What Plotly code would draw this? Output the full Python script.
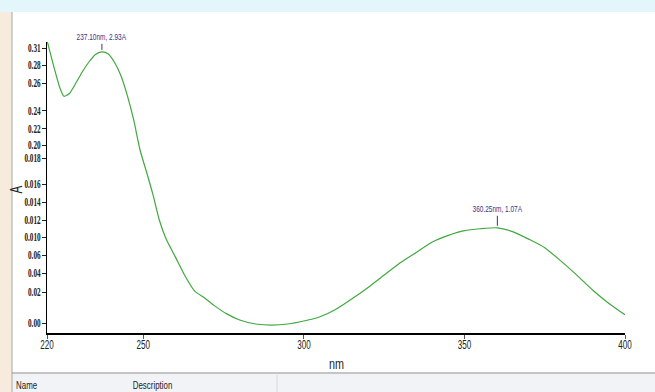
import plotly.graph_objects as go

# ---- data ----
wavelength = [220, 222, 224, 225.3, 227, 229, 231, 233, 235, 237.1, 239, 241, 243, 245, 247, 249,
              251, 253, 255, 257, 260, 263, 266, 269, 272, 276, 280, 285, 290, 295, 300, 305,
              310, 315, 320, 325, 330, 335, 340, 345, 350, 355, 360.25, 365, 370, 375, 380,
              385, 390, 395, 400]
absorbance = [3.05, 2.79, 2.55, 2.46, 2.49, 2.60, 2.72, 2.82, 2.90, 2.93, 2.91, 2.82, 2.68, 2.47,
              2.21, 1.89, 1.66, 1.42, 1.15, 0.96, 0.76, 0.56, 0.40, 0.33, 0.25, 0.16, 0.095,
              0.053, 0.042, 0.053, 0.085, 0.13, 0.21, 0.32, 0.44, 0.57, 0.70, 0.81, 0.92, 0.99,
              1.04, 1.06, 1.07, 1.03, 0.95, 0.86, 0.72, 0.57, 0.41, 0.27, 0.15]

x_tickvals = [220, 250, 300, 350, 400]
x_ticktext = ["220", "250", "300", "350", "400"]

y_tickvals = [2.97, 2.79, 2.60, 2.31, 2.12, 1.945, 1.807, 1.533, 1.342, 1.152, 0.972,
              0.782, 0.592, 0.391, 0.063]
y_ticktext = ["0.31", "0.28", "0.26", "0.24", "0.22", "0.20", "0.018", "0.016", "0.014",
              "0.012", "0.010", "0.06", "0.04", "0.02", "0.00"]

peaks_x = [237.10, 360.25]
peaks_y = [2.93, 1.07]
peak_labels = ["237.10nm, 2.93A", "360.25nm, 1.07A"]
peak_label_offsets = [-8, -12]

W, H = 655, 392
L, R, T, B = 47, 625, 42, 333
SANS = "Liberation Sans, Arial, sans-serif"
SERIF = "Liberation Serif, Times New Roman, serif"


def px(x):
    return (x - L) / (R - L)


def py(y):
    return (B - y) / (B - T)


fig = go.Figure()
fig.add_trace(go.Scatter(x=wavelength, y=absorbance, mode="lines",
                         line=dict(color="#3fa83f", width=1.2, shape="spline", smoothing=0.6),
                         hoverinfo="skip", showlegend=False))

shapes = []
shapes.append(dict(type="rect", xref="paper", yref="paper", x0=px(0), x1=px(W), y0=py(12), y1=py(0),
                   fillcolor="#e2f6fb", line=dict(width=0), layer="below"))
shapes.append(dict(type="rect", xref="paper", yref="paper", x0=px(0), x1=px(12), y0=py(392), y1=py(12),
                   fillcolor="#f6ebdc", line=dict(width=0), layer="below"))
shapes.append(dict(type="rect", xref="paper", yref="paper", x0=px(12), x1=px(W), y0=py(392), y1=py(374),
                   fillcolor="#f1f3f6", line=dict(width=0), layer="below"))
shapes.append(dict(type="line", xref="paper", yref="paper", x0=px(12), x1=px(12), y0=py(392), y1=py(12),
                   line=dict(color="#a8a8a8", width=1)))
shapes.append(dict(type="line", xref="paper", yref="paper", x0=px(12), x1=px(W), y0=py(373), y1=py(373),
                   line=dict(color="#8a8a8a", width=1)))
shapes.append(dict(type="line", xref="paper", yref="paper", x0=px(277), x1=px(277), y0=py(392), y1=py(375),
                   line=dict(color="#d8d8d8", width=1)))

annotations = []
for xv, yv, lab, off in zip(peaks_x, peaks_y, peak_labels, peak_label_offsets):
    annotations.append(dict(x=xv, y=yv, xref="x", yref="y", text=lab, showarrow=True,
                            arrowhead=0, arrowwidth=1, arrowcolor="#333388", ax=0, ay=off,
                            standoff=2, font=dict(family=SANS, size=9, color="#333388"),
                            yanchor="bottom"))
annotations.append(dict(x=px(336), y=py(363), xref="paper", yref="paper", text="nm", showarrow=False,
                        font=dict(family=SANS, size=15, color="#222"),
                        xanchor="center", yanchor="middle"))
annotations.append(dict(x=px(16), y=py(190), xref="paper", yref="paper", text="A", showarrow=False,
                        textangle=-90, font=dict(family=SANS, size=16, color="#222"),
                        xanchor="center", yanchor="middle"))
annotations.append(dict(x=px(26), y=py(385), xref="paper", yref="paper", text="Name", showarrow=False,
                        font=dict(family=SANS, size=11, color="#222"),
                        xanchor="center", yanchor="middle"))
annotations.append(dict(x=px(152), y=py(385), xref="paper", yref="paper", text="Description",
                        showarrow=False, font=dict(family=SANS, size=11, color="#222"),
                        xanchor="center", yanchor="middle"))

fig.update_layout(
    width=W, height=H,
    margin=dict(l=L, r=W - R, t=T, b=H - B),
    paper_bgcolor="white", plot_bgcolor="white",
    shapes=shapes, annotations=annotations,
    xaxis=dict(range=[220, 400], tickvals=x_tickvals, ticktext=x_ticktext, showgrid=False,
               zeroline=False, showline=True, linecolor="black", linewidth=1.5, ticks="outside",
               ticklen=4, tickcolor="#555", ticklabelstandoff=-5,
               tickfont=dict(family=SANS, size=13, color="#222")),
    yaxis=dict(range=[-0.042, 3.034], tickvals=y_tickvals, ticktext=y_ticktext, showgrid=False,
               zeroline=False, showline=True, linecolor="black", linewidth=1, ticks="outside",
               ticklen=4, tickcolor="#222", ticklabelstandoff=-1,
               tickfont=dict(family=SERIF, size=12, color="#222", weight="bold")),
)

post = """
document.body.style.margin='0';document.body.style.overflow='hidden';
var gd=document.getElementById('{plot_id}');
function squeeze(sel,f){gd.querySelectorAll(sel).forEach(function(t){
  var l=t.getComputedTextLength(); if(l>0){t.setAttribute('textLength',(l*f).toFixed(1));
  t.setAttribute('lengthAdjust','spacingAndGlyphs');}});}
squeeze('.ytick text',0.6); squeeze('.xtick text',0.62); squeeze('.annotation-text',0.72);
"""

fig.write_html("out.html", post_script=post, config={"displayModeBar": False})
